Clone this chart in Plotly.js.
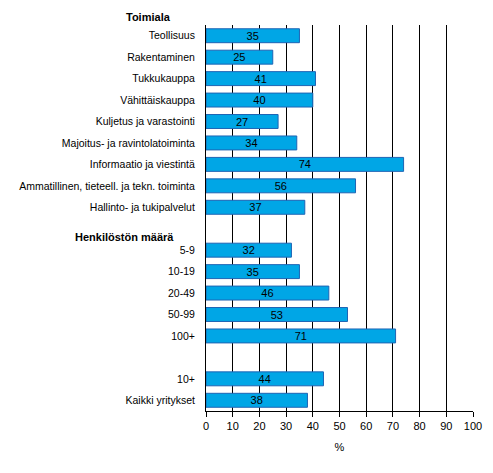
<!DOCTYPE html>
<html>
<head>
<meta charset="utf-8">
<script src="https://cdn.plot.ly/plotly-3.0.1.min.js"></script>
<style>
  body { margin: 0; background: #fff; }
  #myDiv { width: 493px; height: 473px; }
</style>
</head>
<body>
<div id="myDiv"></div>
<script>
  // row labels, blanks are the spacer rows between groups
  var categories = [
    'Teollisuus', 'Rakentaminen', 'Tukkukauppa', 'Vähittäiskauppa',
    'Kuljetus ja varastointi', 'Majoitus- ja ravintolatoiminta',
    'Informaatio ja viestintä', 'Ammatillinen, tieteell. ja tekn. toiminta',
    'Hallinto- ja tukipalvelut', ' ',
    '5-9', '10-19', '20-49', '50-99', '100+', '  ',
    '10+', 'Kaikki yritykset'
  ];
  var values = [35, 25, 41, 40, 27, 34, 74, 56, 37, null, 32, 35, 46, 53, 71, null, 44, 38];
  var groupTitles = ['Toimiala', 'Henkilöstön määrä'];
  var xTicks = [0, 10, 20, 30, 40, 50, 60, 70, 80, 90, 100];

  var fnt = 'Arial, "Liberation Sans", sans-serif';

  var data = [{
    type: 'bar',
    orientation: 'h',
    y: categories,
    x: values,
    marker: { color: '#00A6E6', line: { color: '#1E64B4', width: 1 } },
    texttemplate: '%{x}',
    textposition: 'inside',
    insidetextanchor: 'middle',
    constraintext: 'none',
    textfont: { family: fnt, size: 11, color: '#000' },
    hoverinfo: 'none'
  }];

  var layout = {
    width: 493,
    height: 473,
    margin: { l: 206, r: 20, t: 25, b: 62 },
    paper_bgcolor: '#fff',
    plot_bgcolor: '#fff',
    showlegend: false,
    bargap: 0.35,
    font: { family: fnt, size: 11, color: '#000' },
    xaxis: {
      range: [0, 100],
      tickvals: xTicks,
      showgrid: true,
      gridcolor: '#000',
      gridwidth: 1,
      zeroline: false,
      showline: true,
      linecolor: '#000',
      linewidth: 1,
      ticks: 'outside',
      ticklen: 5,
      tickcolor: '#000',
      ticklabelstandoff: 0,
      tickfont: { family: fnt, size: 11, color: '#000' },
      title: { text: '%', font: { family: fnt, size: 11, color: '#000' }, standoff: 12 },
      fixedrange: true
    },
    yaxis: {
      type: 'category',
      categoryorder: 'array',
      categoryarray: categories,
      autorange: 'reversed',
      showgrid: false,
      zeroline: false,
      showline: true,
      linecolor: '#000',
      linewidth: 1,
      ticks: '',
      ticklabelstandoff: 8,
      tickfont: { family: fnt, size: 10.5, color: '#000' },
      fixedrange: true
    },
    annotations: [
      {
        xref: 'paper', yref: 'paper', x: -0.124, y: 1.021,
        xanchor: 'right', yanchor: 'middle', showarrow: false,
        text: '<b>' + groupTitles[0] + '</b>',
        font: { family: fnt, size: 11, color: '#000' }
      },
      {
        xref: 'paper', yref: 'paper', x: -0.112, y: 0.451,
        xanchor: 'right', yanchor: 'middle', showarrow: false,
        text: '<b>' + groupTitles[1] + '</b>',
        font: { family: fnt, size: 11, color: '#000' }
      }
    ]
  };

  Plotly.newPlot('myDiv', data, layout, { displayModeBar: false, staticPlot: true });
</script>
</body>
</html>
